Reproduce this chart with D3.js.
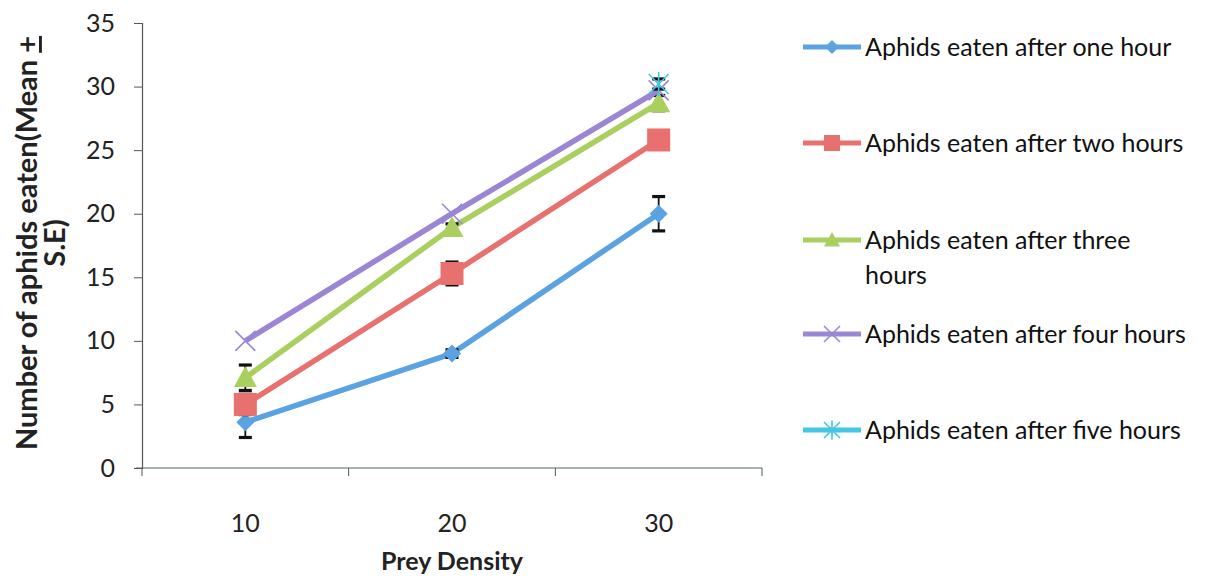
<!DOCTYPE html>
<html>
<head>
<meta charset="utf-8">
<script src="https://cdn.jsdelivr.net/npm/d3@7"></script>
<style>
  html, body { margin: 0; padding: 0; background: #fff; }
  svg { display: block; font-family: Lato, "Open Sans", sans-serif; }
</style>
</head>
<body>
<svg id="chart" width="1205" height="579"></svg>
<script>
// Prey density categories
const densities = ["10", "20", "30"];

// Mean aphids eaten per time interval
const oneHour    = [3.6, 9.0, 20.0];
const twoHours   = [5.0, 15.3, 25.8];
const threeHours = [7.1, 18.9, 28.7];
const fourHours  = [10.0, 20.0, 29.7];
const fiveHours  = [null, null, 30.2];

// Standard errors
const seOne   = [1.2, 0.3, 1.35];
const seTwo   = [0.8, 0.9, 0.3];
const seThree = [1.0, 0.3, 0.6];
const seFour  = [0, 0, 0];
const seFive  = [null, null, 0.4];

const seriesNames = [
  "Aphids eaten after one hour",
  "Aphids eaten after two hours",
  "Aphids eaten after three hours",
  "Aphids eaten after four hours",
  "Aphids eaten after five hours"
];

const yTicks = [0, 5, 10, 15, 20, 25, 30, 35];

const colors = ["#5aa2e2", "#e8706e", "#a9cf5e", "#9a86d4", "#44c6e6"];
const markers = ["diamond", "square", "triangle", "x", "star"];

const series = [
  { name: seriesNames[0], values: oneHour, se: seOne },
  { name: seriesNames[1], values: twoHours, se: seTwo },
  { name: seriesNames[2], values: threeHours, se: seThree },
  { name: seriesNames[3], values: fourHours, se: seFour },
  { name: seriesNames[4], values: fiveHours, se: seFive }
];

const svg = d3.select("#chart");
const plot = { left: 142, right: 762, top: 23, bottom: 468 };

const x = d3.scaleBand().domain(densities).range([plot.left, plot.right]);
const y = d3.scaleLinear().domain([0, 35]).range([plot.bottom, plot.top]);
const cx = d => x(d) + x.bandwidth() / 2;

// Y axis
const yAxis = svg.append("g")
  .attr("transform", `translate(${plot.left},0)`)
  .call(d3.axisLeft(y).tickValues(yTicks).tickSize(8).tickPadding(19));
yAxis.select(".domain").attr("stroke", "#555").attr("stroke-width", 1.2);
yAxis.selectAll(".tick line").attr("stroke", "#555");
yAxis.selectAll(".tick text").attr("font-size", 25).attr("fill", "#222")
  .attr("font-family", "Lato, sans-serif");

// X axis: tick marks on category boundaries, labels centred on bands
const xAxis = svg.append("g")
  .attr("transform", `translate(0,${plot.bottom})`);
xAxis.append("line")
  .attr("x1", plot.left - 6).attr("x2", plot.right)
  .attr("stroke", "#4f6a62").attr("stroke-width", 1.2);
const bounds = densities.map(d => x(d)).concat([plot.right]);
xAxis.selectAll("line.tk").data(bounds).join("line")
  .attr("class", "tk")
  .attr("x1", d => d).attr("x2", d => d)
  .attr("y1", 0).attr("y2", 8)
  .attr("stroke", "#555");
xAxis.selectAll("text").data(densities).join("text")
  .attr("x", d => cx(d)).attr("y", 64)
  .attr("text-anchor", "middle")
  .attr("font-size", 25).attr("fill", "#222")
  .text(d => d);

// Axis titles
svg.append("text")
  .attr("x", cx(densities[1])).attr("y", 570)
  .attr("text-anchor", "middle")
  .attr("font-size", 25).attr("font-weight", "bold").attr("fill", "#222")
  .text("Prey Density");

const yTitle = svg.append("text")
  .attr("transform", "translate(37,243) rotate(-90)")
  .attr("text-anchor", "middle")
  .attr("font-size", 29).attr("font-weight", "bold").attr("fill", "#222");
yTitle.append("tspan").attr("x", 0).attr("dy", 0).text("Number of aphids eaten(Mean ");
yTitle.append("tspan").attr("text-decoration", "underline").text("+");
yTitle.append("tspan").attr("x", 0).attr("dy", 28).text("S.E)");

// Marker drawing helper
function drawMarker(g, type, color, px, py, s) {
  if (type === "diamond") {
    g.append("path")
      .attr("d", `M${px},${py - s}L${px + s},${py}L${px},${py + s}L${px - s},${py}Z`)
      .attr("fill", color);
  } else if (type === "square") {
    g.append("rect")
      .attr("x", px - s).attr("y", py - s)
      .attr("width", 2 * s).attr("height", 2 * s)
      .attr("fill", color);
  } else if (type === "triangle") {
    g.append("path")
      .attr("d", `M${px},${py - s}L${px + s},${py + s * 0.8}L${px - s},${py + s * 0.8}Z`)
      .attr("fill", color);
  } else if (type === "x") {
    g.append("path")
      .attr("d", `M${px - s},${py - s}L${px + s},${py + s}M${px - s},${py + s}L${px + s},${py - s}`)
      .attr("stroke", color).attr("stroke-width", 1.6).attr("fill", "none");
  } else if (type === "star") {
    g.append("path")
      .attr("d", `M${px - s},${py - s}L${px + s},${py + s}M${px - s},${py + s}L${px + s},${py - s}M${px},${py - s * 1.2}L${px},${py + s * 1.2}`)
      .attr("stroke", color).attr("stroke-width", 1.6).attr("fill", "none");
  }
}

const line = d3.line()
  .defined(d => d.v != null)
  .x(d => cx(d.c))
  .y(d => y(d.v));

const sizes = [9, 11.5, 11.5, 10, 10];

// Each series: line, then error bars, then markers
series.forEach((s, i) => {
  const pts = densities.map((c, j) => ({ c, v: s.values[j], e: s.se[j] }));
  const g = svg.append("g");
  g.append("path")
    .datum(pts)
    .attr("d", line)
    .attr("fill", "none")
    .attr("stroke", colors[i])
    .attr("stroke-width", 5.5)
    .attr("stroke-linejoin", "round");
  pts.forEach(p => {
    if (p.v == null || !p.e) return;
    const px = cx(p.c);
    const y0 = y(p.v - p.e), y1 = y(p.v + p.e);
    g.append("line").attr("x1", px).attr("x2", px).attr("y1", y0).attr("y2", y1)
      .attr("stroke", "#111").attr("stroke-width", 1.8);
    [y0, y1].forEach(yy => {
      g.append("line").attr("x1", px - 6.5).attr("x2", px + 6.5).attr("y1", yy).attr("y2", yy)
        .attr("stroke", "#111").attr("stroke-width", 3.2);
    });
  });
  pts.filter(p => p.v != null).forEach(p => {
    drawMarker(g, markers[i], colors[i], cx(p.c), y(p.v), sizes[i]);
  });
});

// Legend
const legendRows = [47, 143, 240, 334, 430];
const legend = svg.append("g");
series.forEach((s, i) => {
  const ly = legendRows[i];
  const g = legend.append("g");
  g.append("line").attr("x1", 803).attr("x2", 861).attr("y1", ly).attr("y2", ly)
    .attr("stroke", colors[i]).attr("stroke-width", 5);
  drawMarker(g, markers[i], colors[i], 832, ly, i === 0 ? 7 : 8);
  const t = g.append("text")
    .attr("x", 865).attr("y", ly + 9)
    .attr("font-size", 25).attr("fill", "#111");
  if (i === 2) {
    t.append("tspan").attr("x", 865).text("Aphids eaten after three");
    t.append("tspan").attr("x", 865).attr("dy", 35).text("hours");
  } else {
    t.text(s.name);
  }
});
</script>
</body>
</html>
